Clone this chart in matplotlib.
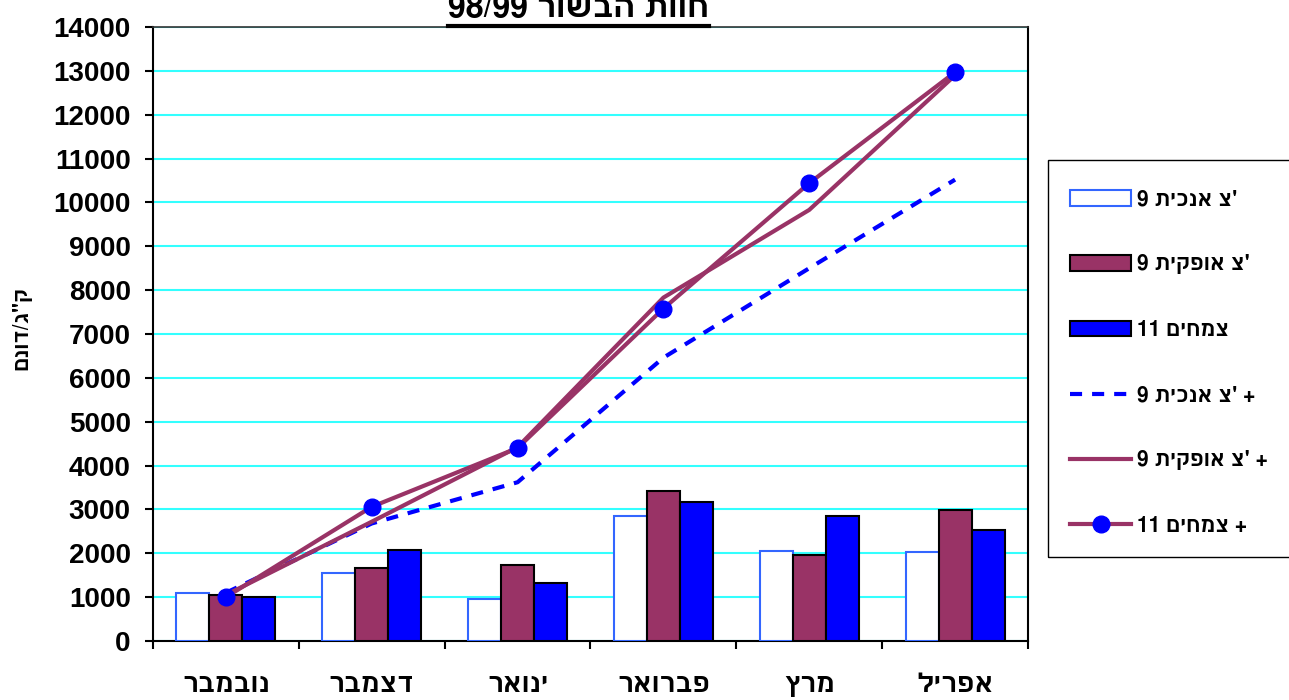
import re
import numpy as np
import matplotlib
matplotlib.use("Agg")
import matplotlib.pyplot as plt
from matplotlib.lines import Line2D
from matplotlib.patches import Patch, Rectangle

plt.rcParams['font.family'] = ['Liberation Sans', 'DejaVu Sans']
plt.rcParams['font.weight'] = 'bold'
HEB = ['FreeSans', 'Liberation Sans', 'DejaVu Sans']  # heavier bold Hebrew glyphs

# Monthly yield, kg per dunam (logical Hebrew order)
months = ["נובמבר", "דצמבר", "ינואר", "פברואר", "מרץ", "אפריל"]
vertical_9 = [1100, 1550, 960, 2840, 2060, 2030]      # צ' אנכית 9
horizontal_9 = [1050, 1670, 1730, 3410, 1950, 2980]   # צ' אופקית 9
plants_11 = [1000, 2070, 1320, 3170, 2850, 2520]      # צמחים 11

# Running totals
vertical_9_total = [1100, 2680, 3620, 6460, 8500, 10520]
horizontal_9_total = [1050, 2720, 4420, 7830, 9830, 12900]
plants_11_total = [1000, 3060, 4400, 7580, 10440, 12970]

labels = ["צ' אנכית 9", "צ' אופקית 9", "צמחים 11",
          "+ צ' אנכית 9", "+ צ' אופקית 9", "+ צמחים 11"]
title = "חוות הבשור 98/99"
ylabel = "ק\"ג/דונם"
yticks = list(range(0, 14001, 1000))

MAROON = "#993366"
BLUE = "#0000FF"
W, H = 1289, 700


def heb(s):
    # matplotlib has no bidi: flip the characters, keep numbers readable
    # and keep a geresh attached to its letter
    tokens = re.findall(r"[0-9/]+|.'?", s)
    return "".join(reversed(tokens))


fig = plt.figure(figsize=(W / 100, H / 100), dpi=100)
ax = fig.add_axes([153 / W, 1 - 641 / H, 875 / W, 614 / H])

x = np.arange(len(months))
w = 0.226
ax.bar(x - w, vertical_9, w, color="white", edgecolor="#3366FF", linewidth=1.5, zorder=3)
ax.bar(x, horizontal_9, w, color=MAROON, edgecolor="black", linewidth=1.5, zorder=3)
ax.bar(x + w, plants_11, w, color=BLUE, edgecolor="black", linewidth=1.5, zorder=3)

ax.plot(x, vertical_9_total, color=BLUE, lw=3, linestyle=(0, (2.9, 2.4)), zorder=4)
ax.plot(x, horizontal_9_total, color=MAROON, lw=3, zorder=4)
ax.plot(x, plants_11_total, color=MAROON, lw=3, marker="o", markersize=12,
        markerfacecolor=BLUE, markeredgecolor=BLUE, zorder=5)

ax.set_xlim(-0.5, len(months) - 0.5)
ax.set_ylim(0, 14000)
ax.set_yticks(yticks)
ax.set_yticklabels([str(v) for v in yticks], fontsize=20, fontweight="bold")
ax.grid(axis="y", color="#33FFFF", lw=1.5, zorder=0)
ax.set_axisbelow(True)

# category boundaries get the tick marks, names sit in between
ax.set_xticks(np.arange(len(months) + 1) - 0.5)
ax.set_xticklabels([])
ax.set_xticks(x, minor=True)
ax.set_xticklabels([heb(m) for m in months], minor=True, fontsize=19,
                   fontweight="bold", family=HEB)
ax.tick_params(axis="x", which="major", length=6, width=1.5, direction="out")
ax.tick_params(axis="x", which="minor", length=0, pad=23)
ax.tick_params(axis="y", length=6, width=1.5, direction="out", pad=10)

for side in ["left", "bottom", "right"]:
    ax.spines[side].set_linewidth(1.5)
    ax.spines[side].set_color("black")
ax.spines["top"].set_linewidth(1.2)
ax.spines["top"].set_color("#333333")

fig.text(22 / W, 1 - 328 / H, heb(ylabel), rotation=90, ha="center", va="center",
         fontsize=15, fontweight="bold", family=HEB)

t = fig.text(578 / W, 1 - 17 / H, heb(title), ha="center", va="baseline",
             fontsize=23, fontweight="bold", family=HEB)

handles = [
    Patch(facecolor="white", edgecolor="#3366FF", linewidth=1.5),
    Patch(facecolor=MAROON, edgecolor="black", linewidth=1.5),
    Patch(facecolor=BLUE, edgecolor="black", linewidth=1.5),
    Line2D([], [], color=BLUE, lw=3, linestyle=(0, (2.9, 2.4))),
    Line2D([], [], color=MAROON, lw=3),
    Line2D([], [], color=MAROON, lw=3, marker="o", markersize=12,
           markerfacecolor=BLUE, markeredgecolor=BLUE),
]
fig.legend(handles, [heb(l) for l in labels], loc="upper left",
           bbox_to_anchor=(1070 / W, 1 - 189 / H), borderaxespad=0, borderpad=0,
           prop={"family": HEB, "size": 15, "weight": "bold"}, labelspacing=2.13,
           handlelength=2.93, handleheight=0.77, handletextpad=0.3, frameon=False)

# legend box, running off the right edge
fig.add_artist(Rectangle((1048 / W, 1 - 557 / H), 260 / W, 397 / H,
                         transform=fig.transFigure, facecolor="none",
                         edgecolor="black", lw=1.0, zorder=0))

# underline the title
fig.canvas.draw()
bb = t.get_window_extent()
yb = bb.y0 - 2
fig.add_artist(Line2D([bb.x0, bb.x1], [yb, yb], transform=None, color="black", lw=3))

fig.savefig("out.png", dpi=100)
